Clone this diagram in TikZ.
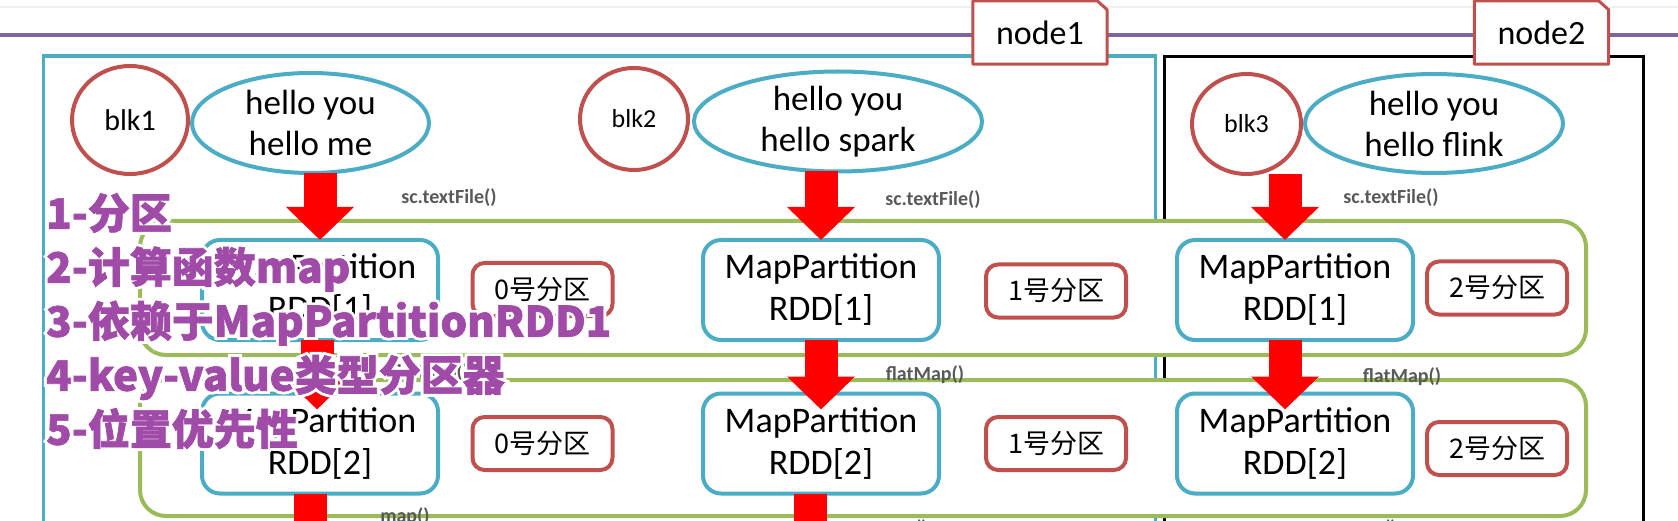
\documentclass[tikz,border=0pt]{standalone}
\usepackage{fontspec}
\setmainfont{Carlito}
\newfontfamily\cjk{Noto Sans CJK SC}
\newfontfamily\cjkheavy{Noto Sans CJK SC}[FakeBold=1.5]
\newfontfamily\cjkglow{Noto Sans CJK SC}[FakeBold=15]
\usetikzlibrary{arrows.meta,positioning,shapes.geometric}
\usepackage{xcolor}
\definecolor{Teal}{HTML}{4BACC6}
\definecolor{Brick}{HTML}{C0504D}
\definecolor{Olive}{HTML}{9BBB59}
\definecolor{Plum}{HTML}{8064A2}
\definecolor{NotePurple}{HTML}{A04BA8}
\definecolor{OpGray}{HTML}{595959}
\definecolor{ArrowRed}{HTML}{FF0000}
\newcommand{\notetext}{1-分区\\2-计算函数map\\3-依赖于MapPartitionRDD1\\4-key-value类型分区器\\5-位置优先性}

\begin{document}
\begin{tikzpicture}[x=1pt,y=-1pt,
    blk/.style={ellipse,draw=Brick,line width=4pt,inner sep=0pt,outer sep=0pt},
    data/.style={ellipse,draw=Teal,line width=4pt,inner sep=-9pt,outer sep=0pt,
      align=center,font=\fontsize{35}{41}\selectfont},
    host/.style={draw=#1,line width=3.5pt,anchor=north west,inner sep=0pt,outer sep=0pt},
    tab/.style={fill=white,minimum width=134pt,minimum height=63pt,inner sep=0pt,
      font=\fontsize{34}{40}\selectfont},
    tabline/.style={draw=Brick,line width=3pt,line join=round},
    stage/.style={draw=Olive,fill=white,line width=4pt,rounded corners=26pt,
      minimum width=1446pt,inner sep=0pt,outer sep=0pt},
    rdd/.style={draw=Teal,fill=white,line width=4pt,rounded corners=18pt,
      minimum width=236pt,minimum height=100pt,inner sep=0pt,outer sep=0pt,
      align=center,font=\fontsize{36}{42}\selectfont},
    part/.style={draw=Brick,fill=white,line width=4pt,rounded corners=12pt,
      minimum width=140pt,minimum height=53pt,inner sep=0pt,outer sep=0pt,
      font=\cjk\fontsize{27}{30}\selectfont},
    op/.style={text=OpGray,inner sep=0pt,font=\bfseries\fontsize{20}{22}\selectfont},
    bigarrow/.style={draw=ArrowRed,line width=33pt,-{Triangle[length=33pt,width=66pt]}},
    note/.style={anchor=north west,align=left,inner sep=0pt,
      font=\cjkheavy\bfseries\fontsize{42}{54}\selectfont}]
  \useasboundingbox (0,0) rectangle (1678,521);
  \clip (0,0) rectangle (1678,521);
  \fill[white] (0,0) rectangle (1678,521);
  \draw[gray!12,line width=2pt] (0,7) -- (1678,7);
  \draw[Plum,line width=4pt] (0,35.5) -- (1678,35.5);

  \node[host=Teal,minimum width=1112pt,minimum height=520pt] (host1) at (43.5,56) {};
  \node[host=black,minimum width=479pt,minimum height=520pt] (host2) at (1164.5,56.5) {};

  \node[tab] (node1) at (1040,32.5) {node1};
  \draw[tabline] (node1.south west) -- (node1.north west) -- ([xshift=-10pt]node1.north east)
    -- ([yshift=-9pt]node1.north east) -- (node1.south east) -- cycle;
  \node[tab] (node2) at (1541.5,32.5) {node2};
  \draw[tabline] (node2.south west) -- (node2.north west) -- ([xshift=-10pt]node2.north east)
    -- ([yshift=-9pt]node2.north east) -- (node2.south east) -- cycle;

  \node[blk,minimum width=116pt,minimum height=108pt,font=\fontsize{30}{34}\selectfont]
    (blk1) at (130,120) {blk1};
  \node[data,minimum width=237pt,minimum height=100pt] (hm) at (310.5,123) {hello you\\hello me};
  \node[blk,minimum width=108pt,minimum height=102pt,font=\fontsize{26}{30}\selectfont]
    (blk2) at (634,119) {blk2};
  \node[data,minimum width=288pt,minimum height=100pt] (hs) at (838,121.5) {hello you\\hello spark};
  \node[blk,minimum width=109pt,minimum height=100pt,font=\fontsize{26}{30}\selectfont]
    (blk3) at (1246.5,124) {blk3};
  \node[data,minimum width=258pt,minimum height=99pt] (hf) at (1434,123.5) {hello you\\hello flink};

  \node[stage,minimum height=134pt] (stage1) at (863,288) {};
  \node[stage,minimum height=136pt] (stage2) at (863,448) {};

  \node[rdd] (A1) at (320,290) {MapPartition\\RDD[1]};
  \node[rdd] (A2) at (821,290) {MapPartition\\RDD[1]};
  \node[rdd] (A3) at (1295,290) {MapPartition\\RDD[1]};
  \node[rdd] (B1) at (320,443.5) {MapPartition\\RDD[2]};
  \node[rdd] (B2) at (821,443.5) {MapPartition\\RDD[2]};
  \node[rdd] (B3) at (1295,443.5) {MapPartition\\RDD[2]};

  \node[part] (p01) at (542.5,289.5) {0号分区};
  \node[part] (p11) at (1056,291) {1号分区};
  \node[part] (p21) at (1497,288) {2号分区};
  \node[part] (p02) at (542.5,443.5) {0号分区};
  \node[part] (p12) at (1056,443.5) {1号分区};
  \node[part] (p22) at (1497,448.5) {2号分区};

  \node[op] (tf1) at (449,198) {sc.textFile()};
  \node[op] (tf2) at (933,200) {sc.textFile()};
  \node[op] (tf3) at (1391,198) {sc.textFile()};
  \node[op] (fm1) at (430,373) {flatMap()};
  \node[op] (fm2) at (925,375) {flatMap()};
  \node[op] (fm3) at (1402,377) {flatMap()};
  \node[op,anchor=base] (mp1) at (405,522) {map()};
  \node[op,anchor=base] (mp2) at (903,534) {map()};
  \node[op,anchor=base] (mp3) at (1372,534) {map()};

  \draw[bigarrow] (hm.south -| A1.north) -- (A1.north);
  \draw[bigarrow] (hs.south -| A2.north) -- (A2.north);
  \draw[bigarrow] ([xshift=-10pt]A3.north |- blk3.south) -- ([xshift=-10pt]A3.north);
  \draw[bigarrow] ([xshift=-3pt]A1.south) -- ([xshift=-3pt,yshift=-16pt]B1.north);
  \draw[bigarrow] (A2.south) -- ([yshift=-16pt]B2.north);
  \draw[bigarrow] ([xshift=-10pt]A3.south) -- ([xshift=-10pt,yshift=-16pt]B3.north);
  \coordinate (out1) at ([xshift=-10pt,yshift=-66pt]B1.south);
  \coordinate (out2) at ([xshift=-11pt,yshift=-66pt]B2.south);
  \draw[bigarrow] ([xshift=-10pt]B1.south) -- (out1);
  \draw[bigarrow] ([xshift=-11pt]B2.south) -- (out2);

  \node[note,text=white,font=\cjkglow\bfseries\fontsize{42}{54}\selectfont] (noteglow) at (46,193) {\notetext};
  \node[note,text=NotePurple] (note) at (46,193) {\notetext};
\end{tikzpicture}
\end{document}
